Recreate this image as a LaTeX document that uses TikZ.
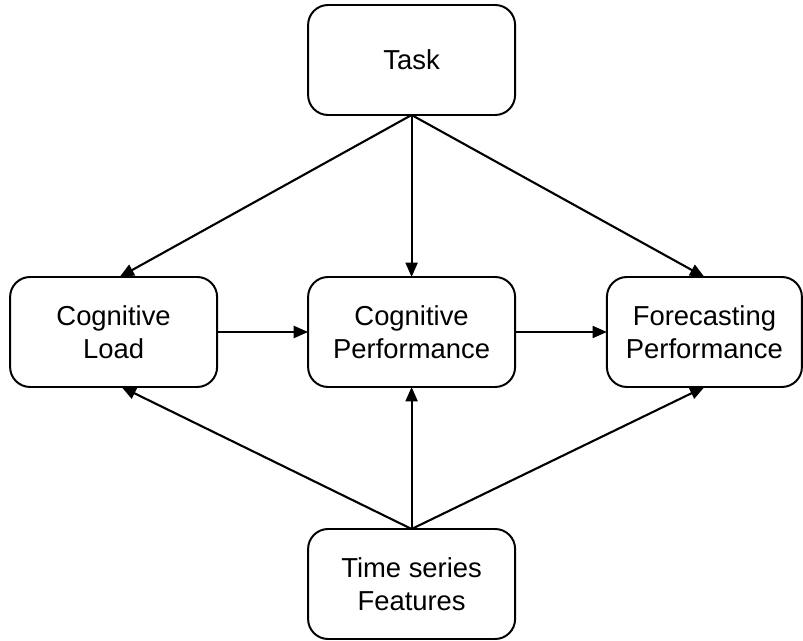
\documentclass[tikz,border=0pt]{standalone}
\usepackage{fontspec}
\setmainfont{Liberation Sans}
\usetikzlibrary{arrows.meta}

\begin{document}
\begin{tikzpicture}[>={Triangle[length=0.36cm, width=0.3cm]},
     every node/.style = 
     {minimum width=5.175cm, minimum height=2.75cm, outer sep=0pt,
     draw=black, line width=1.4pt, rounded corners=0.5cm, align=center,
     font=\fontsize{19.5}{23.5}\selectfont}]
        \useasboundingbox (0,0) rectangle (20.075,16);
        \node at (10.29,14.5) (task) {Task};
        \node at (2.84,7.7)   (load) {Cognitive\\Load};
        \node at (10.29,7.7)  (cperf) {Cognitive\\Performance};
        \node [minimum width=4.875cm] 
            at (17.61,7.7) (fperf) {Forecasting\\Performance};
        \node at (10.29,1.4)  (feat) {Time series\\Features};
        % arrows
        \draw [->, line width=1.5pt] (task.south) -- ([xshift=0.15cm]load.north);
        \draw [->, line width=1.5pt] (task.south) -- (cperf.north);
        \draw [->, line width=1.5pt] (task.south) -- (fperf.north);
        \draw [->, line width=1.5pt] (load.east) -- (cperf.west);
        \draw [->, line width=1.5pt] (cperf.east) -- (fperf.west);
        \draw [->, line width=1.5pt] (feat.north) -- ([xshift=0.2cm]load.south);
        \draw [->, line width=1.5pt] (feat.north) -- (cperf.south);
        \draw [->, line width=1.5pt] (feat.north) -- (fperf.south);
\end{tikzpicture}
\end{document}
